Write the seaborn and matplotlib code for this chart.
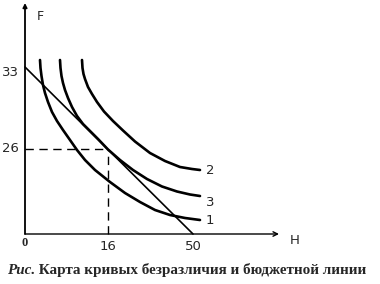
import matplotlib
matplotlib.use("Agg")
import matplotlib.pyplot as plt
import seaborn as sns

sns.set_style("white")
plt.rcParams['font.family'] = ['DejaVu Sans']

# Indifference curves (drawing units, origin at the axes corner)
curve1_x = [15, 15.5, 16.5, 18, 20, 23, 27, 32, 38, 45, 52, 60, 70, 85, 100, 115, 130, 145, 160, 175]
curve1_y = [174, 166, 158, 149, 141, 132, 122, 113, 104, 94, 84, 74, 64, 52, 41, 32, 24, 19, 16, 14]
curve3_x = [35, 35.5, 36.5, 38, 40, 43, 47, 52, 58, 65, 73, 83, 95, 108, 122, 137, 152, 165, 175]
curve3_y = [174, 166, 158, 151, 144, 136, 127, 118, 110, 103, 95, 84.5, 74, 64, 55, 47.5, 42.5, 39.5, 38]
curve2_x = [57, 57.5, 58.5, 60, 63, 67, 72, 79, 88, 98, 110, 125, 140, 155, 167, 175]
curve2_y = [174, 166, 160, 155, 147, 140, 132, 122.5, 113, 103.5, 92.5, 81, 73, 67, 65, 64]
curve_labels = ["1", "3", "2"]
label_dy = [-1, -6, -1]

# Budget line
budget_x = [0, 168]
budget_y = [167, 0]

# Tangency point
opt_x, opt_y = 83, 85

x_tick_pos = [83, 168]
x_tick_lab = ["16", "50"]
y_tick_pos = [167, 85]
y_tick_lab = ["33", "26"]

fig = plt.figure(figsize=(3.8, 2.84), dpi=100)
ax = fig.add_axes([0, 0, 1, 1])
ax.set_xlim(-25, 355)
ax.set_ylim(-50, 234)

curves = [(curve1_x, curve1_y), (curve3_x, curve3_y), (curve2_x, curve2_y)]
for (cx, cy), lab, dy in zip(curves, curve_labels, label_dy):
    sns.lineplot(x=cx, y=cy, sort=False, color="black", lw=1.9, ax=ax)
    ax.text(cx[-1] + 6, cy[-1] + dy, lab, fontsize=9.5, va="center", ha="left")

sns.lineplot(x=budget_x, y=budget_y, sort=False, color="black", lw=1.2, ax=ax)

# dashed guides
ax.plot([0, opt_x], [opt_y, opt_y], ls=(0, (6, 4)), color="black", lw=1)
ax.plot([opt_x, opt_x], [0, opt_y], ls=(0, (6, 4)), color="black", lw=1)

# axes with arrows
for s in ax.spines.values():
    s.set_visible(False)
ax.annotate("", xy=(254, 0), xytext=(0, 0),
            arrowprops=dict(arrowstyle="->", lw=1, color="black", shrinkA=0, shrinkB=0,
                            mutation_scale=8))
ax.annotate("", xy=(0, 231), xytext=(0, 0),
            arrowprops=dict(arrowstyle="-|>", lw=1.3, color="black", shrinkA=0, shrinkB=0,
                            mutation_scale=6))

ax.set_xticks([])
ax.set_yticks([])
for p, l in zip(x_tick_pos, x_tick_lab):
    ax.text(p, -12, l, ha="center", va="center", fontsize=9.5)
for p, l in zip(y_tick_pos, y_tick_lab):
    ax.text(-6, p - 6 if l == "33" else p, l, ha="right", va="center", fontsize=9.5)
ax.text(0, -9, "0", ha="center", va="center", fontsize=9, fontweight="bold",
        family="Liberation Serif")
ax.text(15, 217, "F", ha="center", va="center", fontsize=9)
ax.text(270, -6, "H", ha="center", va="center", fontsize=9.5)

# caption
t1 = ax.text(-18, -36, "Рис.", ha="left", va="center", fontsize=10.9,
             family="Liberation Serif", style="italic", fontweight="bold")
ax.annotate(" Карта кривых безразличия и бюджетной линии", xy=(1, 0.5), xycoords=t1,
            ha="left", va="center", fontsize=10.9, family="Liberation Serif",
            fontweight="bold")

fig.savefig("out.png", dpi=100)
